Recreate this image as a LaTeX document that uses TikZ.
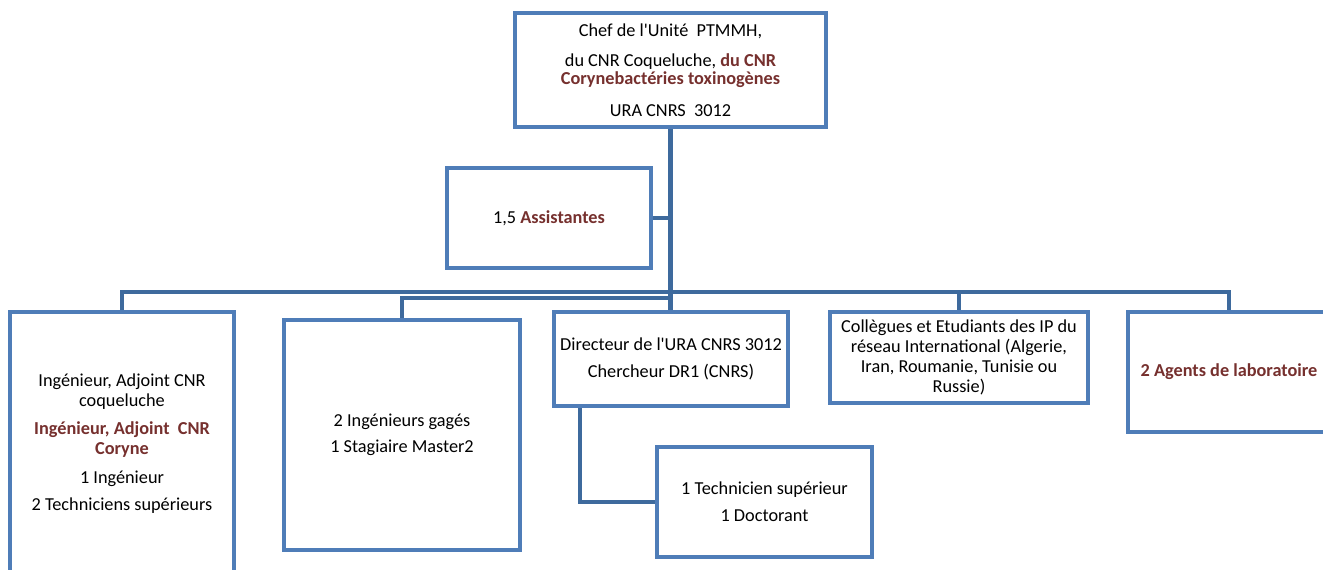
\documentclass[tikz,border=0pt]{standalone}
\usepackage{fontspec}
\setmainfont{Carlito}
\definecolor{boxblue}{HTML}{4F7DB8}
\definecolor{linkblue}{HTML}{3E6A9D}
\definecolor{darkred}{HTML}{76302E}
\newcommand{\rb}[1]{\textcolor{darkred}{\textbf{#1}}}
\tikzset{
  orgbox/.style={draw=boxblue, line width=3pt, fill=white, rectangle, align=center,
    inner sep=0pt, outer sep=0pt, font=\fontsize{13.7}{14}\selectfont, text=black},
  link/.style={draw=linkblue, line width=3.3pt, line join=miter}
}
\begin{document}
\begin{tikzpicture}[x=0.75pt,y=-0.75pt]
\clip (0,0) rectangle (1323,569);
\fill[white] (0,0) rectangle (1323,569);

\coordinate (busL) at (122,292);
\coordinate (bus2) at (402,298);
\coordinate (dk) at (580,406);

\node[orgbox, minimum width=233.25pt, minimum height=85.5pt] (top) at (670.5,70)
 {Chef de l\textquotesingle Unité\ \ PTMMH,\\[8.5pt]
  du CNR Coqueluche, \rb{du CNR}\\[-0.5pt]
  \rb{Corynebactéries toxinogènes}\\[10pt]
  URA CNRS\ \ 3012};

\node[orgbox, minimum width=153pt, minimum height=75pt] (assist) at (549,218)
 {1,5 \rb{Assistantes}};

\node[orgbox, minimum width=175.5pt, minimum height=70.5pt] (dir) at (671,359)
 {Directeur de l\textquotesingle URA CNRS 3012\\[6.25pt]
  Chercheur DR1 (CNRS)};

\node[orgbox, minimum width=168pt, minimum height=197.25pt] (left) at (122,443.5)
 {Ingénieur, Adjoint CNR\\[1pt]
  coqueluche\\[7pt]
  \rb{Ingénieur, Adjoint\ \ CNR}\\[1pt]
  \rb{Coryne}\\[7.75pt]
  1 Ingénieur\\[6.25pt]
  2 Techniciens supérieurs};

\node[orgbox, minimum width=177pt, minimum height=172.5pt] (eng) at (402,435)
 {2 Ingénieurs gagés\\[5.5pt]
  1 Stagiaire Master2};

\node[orgbox, minimum width=161.25pt, minimum height=82.5pt] (tech) at (764.5,502)
 {1 Technicien supérieur\\[6.25pt]
  1 Doctorant};

\node[orgbox, minimum width=193.5pt, minimum height=68.25pt] (coll) at (959,357.5)
 {Collègues et Etudiants des IP du\\[1pt]
  réseau International\ (Algerie,\\[1pt]
  Iran, Roumanie, Tunisie ou\\[1pt]
  Russie)};

\node[orgbox, minimum width=151.5pt, minimum height=90pt] (agents) at (1229,372)
 {\rb{2 Agents de laboratoire}};

\draw[link] (top.south) -- (top.south |- dir.north);
\draw[link] (assist.east) -- (assist.east -| top.south);
\draw[link] (left.north) -- (left.north |- busL) -- (agents.north |- busL) -- (agents.north);
\draw[link] (coll.north) -- (coll.north |- busL);
\draw[link] (eng.north) -- (eng.north |- bus2) -- (top.south |- bus2);
\draw[link] (dk) |- (tech.west);

% redraw box outlines over connector ends
\foreach \n in {top,assist,dir,left,eng,tech,coll,agents}
  \draw[boxblue, line width=3pt] (\n.north west) rectangle (\n.south east);
\end{tikzpicture}
\end{document}
